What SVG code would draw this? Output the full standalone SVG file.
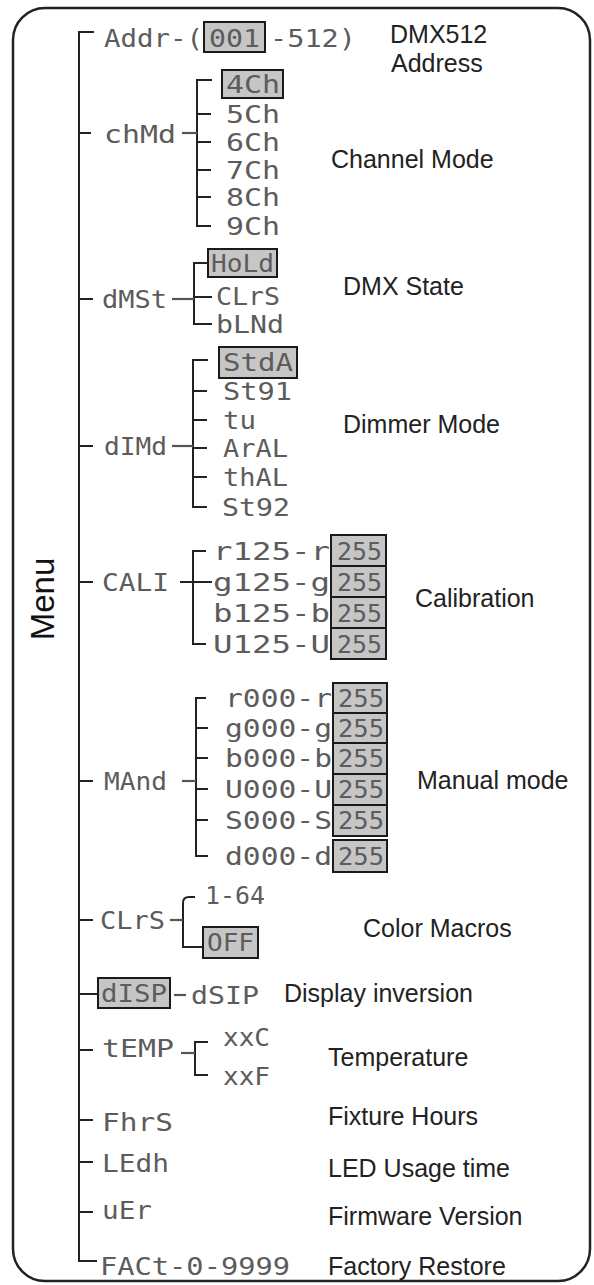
<svg xmlns="http://www.w3.org/2000/svg" width="594" height="1285" viewBox="0 0 594 1285">
<style>
.seg{font-family:"DejaVu Sans Mono","Liberation Mono",monospace;font-size:25px;fill:#5c5c5c}
.lbl{font-family:"Liberation Sans",Arial,sans-serif;font-size:25px;fill:#222}
.menu{font-family:"Liberation Sans",Arial,sans-serif;font-size:33px;fill:#111}
.box{fill:#c6c6c6;stroke:#1a1a1a;stroke-width:2}
.ln{stroke:#222;stroke-width:2;fill:none}
.dash{stroke:#555;stroke-width:2.2;fill:none}
</style>
<rect x="13" y="8" width="577" height="1273" rx="32" fill="#fff" stroke="#222" stroke-width="2.5"/>
<g id="menu"><text class="menu" x="54" y="599" text-anchor="middle" transform="rotate(-90 54 599)">Menu</text></g>

<g id="connectors">
<path class="ln" d="M94 32H79V1261H97"/>
<path class="ln" d="M79 133H91M79 299H93M79 446H93M79 582H93M79 781H93M79 920H93M79 994H98M79 1050H93M79 1120H93M79 1162H93M79 1212H93"/>
<path class="ln" d="M212 80H197V226H211M197 114H211M197 142H211M197 170H211M197 197H211"/>
<path class="dash" d="M182 133H197"/>
<path class="ln" d="M208 263H194V324H212M194 297H212"/>
<path class="dash" d="M172 299H194"/>
<path class="ln" d="M208 360H193V507H207M193 391H207M193 420H207M193 448H207M193 477H207"/>
<path class="dash" d="M172 446H193"/>
<path class="ln" d="M206 551H193V644H206M180 582H212"/>
<path class="ln" d="M206 698H196V856H208M196 728H208M196 758H208M196 789H208M196 820H208"/>
<path class="dash" d="M182 781H196"/>
<path class="ln" d="M195 897H189Q183 897 183 903V947H203"/>
<path class="dash" d="M170 920H183"/>
<path class="dash" d="M174 995H186"/>
<path class="ln" d="M208 1042H195V1075H208"/>
<path class="dash" d="M181 1053H195"/>
</g>

<g id="n-addr">
<rect class="box" x="204" y="22" width="61" height="30"/>
<text class="seg" x="104" y="47" textLength="99" lengthAdjust="spacingAndGlyphs">Addr-(</text>
<text class="seg" x="209" y="47" textLength="51" lengthAdjust="spacingAndGlyphs">001</text>
<text class="seg" x="270" y="47" textLength="86" lengthAdjust="spacingAndGlyphs">-512)</text>
<text class="lbl" x="390" y="43">DMX512</text>
<text class="lbl" x="391" y="72">Address</text>
</g>

<g id="n-chmd">
<text class="seg" x="104" y="143" textLength="72" lengthAdjust="spacingAndGlyphs">chMd</text>
<text class="lbl" x="331" y="168">Channel Mode</text>
</g>
<g id="o-4ch"><rect class="box" x="222" y="70" width="61" height="28"/><text class="seg" x="226" y="93" textLength="54" lengthAdjust="spacingAndGlyphs">4Ch</text></g>
<g id="o-5ch"><text class="seg" x="226" y="123" textLength="54" lengthAdjust="spacingAndGlyphs">5Ch</text></g>
<g id="o-6ch"><text class="seg" x="226" y="151" textLength="54" lengthAdjust="spacingAndGlyphs">6Ch</text></g>
<g id="o-7ch"><text class="seg" x="226" y="179" textLength="54" lengthAdjust="spacingAndGlyphs">7Ch</text></g>
<g id="o-8ch"><text class="seg" x="226" y="206" textLength="54" lengthAdjust="spacingAndGlyphs">8Ch</text></g>
<g id="o-9ch"><text class="seg" x="226" y="235" textLength="54" lengthAdjust="spacingAndGlyphs">9Ch</text></g>

<g id="n-dmst">
<text class="seg" x="102" y="308" textLength="65" lengthAdjust="spacingAndGlyphs">dMSt</text>
<text class="lbl" x="343" y="295">DMX State</text>
</g>
<g id="o-hold"><rect class="box" x="208" y="249" width="69" height="28"/><text class="seg" x="211" y="272" textLength="63" lengthAdjust="spacingAndGlyphs">HoLd</text></g>
<g id="o-clrs1"><text class="seg" x="216" y="305" textLength="64" lengthAdjust="spacingAndGlyphs">CLrS</text></g>
<g id="o-blnd"><text class="seg" x="216" y="333" textLength="68" lengthAdjust="spacingAndGlyphs">bLNd</text></g>

<g id="n-dimd">
<text class="seg" x="104" y="455" textLength="63" lengthAdjust="spacingAndGlyphs">dIMd</text>
<text class="lbl" x="343" y="433">Dimmer Mode</text>
</g>
<g id="o-stda"><rect class="box" x="219" y="347" width="78" height="31"/><text class="seg" x="223" y="371" textLength="70" lengthAdjust="spacingAndGlyphs">StdA</text></g>
<g id="o-st91"><text class="seg" x="223" y="400" textLength="69" lengthAdjust="spacingAndGlyphs">St91</text></g>
<g id="o-tu"><text class="seg" x="223" y="429" textLength="33" lengthAdjust="spacingAndGlyphs">tu</text></g>
<g id="o-aral"><text class="seg" x="223" y="457" textLength="65" lengthAdjust="spacingAndGlyphs">ArAL</text></g>
<g id="o-thal"><text class="seg" x="223" y="486" textLength="65" lengthAdjust="spacingAndGlyphs">thAL</text></g>
<g id="o-st92"><text class="seg" x="222" y="516" textLength="68" lengthAdjust="spacingAndGlyphs">St92</text></g>

<g id="n-cali">
<text class="seg" x="102" y="591" textLength="67" lengthAdjust="spacingAndGlyphs">CALI</text>
<text class="lbl" x="415" y="607">Calibration</text>
</g>
<g id="o-cal-r"><rect class="box" x="331" y="535" width="55" height="31"/><text class="seg" x="213" y="560" textLength="117" lengthAdjust="spacingAndGlyphs">r125-r</text><text class="seg" x="337" y="560" textLength="45" lengthAdjust="spacingAndGlyphs">255</text></g>
<g id="o-cal-g"><rect class="box" x="331" y="566" width="55" height="31"/><text class="seg" x="213" y="591" textLength="117" lengthAdjust="spacingAndGlyphs">g125-g</text><text class="seg" x="337" y="591" textLength="45" lengthAdjust="spacingAndGlyphs">255</text></g>
<g id="o-cal-b"><rect class="box" x="331" y="597" width="55" height="31"/><text class="seg" x="213" y="622" textLength="117" lengthAdjust="spacingAndGlyphs">b125-b</text><text class="seg" x="337" y="622" textLength="45" lengthAdjust="spacingAndGlyphs">255</text></g>
<g id="o-cal-u"><rect class="box" x="331" y="628" width="55" height="31"/><text class="seg" x="213" y="653" textLength="117" lengthAdjust="spacingAndGlyphs">U125-U</text><text class="seg" x="337" y="653" textLength="45" lengthAdjust="spacingAndGlyphs">255</text></g>

<g id="n-mand">
<text class="seg" x="104" y="790" textLength="63" lengthAdjust="spacingAndGlyphs">MAnd</text>
<text class="lbl" x="417" y="789">Manual mode</text>
</g>
<g id="o-man-r"><rect class="box" x="333" y="683" width="54" height="30"/><text class="seg" x="225" y="707" textLength="107" lengthAdjust="spacingAndGlyphs">r000-r</text><text class="seg" x="338" y="707" textLength="46" lengthAdjust="spacingAndGlyphs">255</text></g>
<g id="o-man-g"><rect class="box" x="333" y="713" width="54" height="30"/><text class="seg" x="225" y="737" textLength="107" lengthAdjust="spacingAndGlyphs">g000-g</text><text class="seg" x="338" y="737" textLength="46" lengthAdjust="spacingAndGlyphs">255</text></g>
<g id="o-man-b"><rect class="box" x="333" y="743" width="54" height="31"/><text class="seg" x="225" y="767" textLength="107" lengthAdjust="spacingAndGlyphs">b000-b</text><text class="seg" x="338" y="767" textLength="46" lengthAdjust="spacingAndGlyphs">255</text></g>
<g id="o-man-u"><rect class="box" x="333" y="774" width="54" height="31"/><text class="seg" x="225" y="798" textLength="107" lengthAdjust="spacingAndGlyphs">U000-U</text><text class="seg" x="338" y="798" textLength="46" lengthAdjust="spacingAndGlyphs">255</text></g>
<g id="o-man-s"><rect class="box" x="333" y="805" width="54" height="31"/><text class="seg" x="225" y="829" textLength="107" lengthAdjust="spacingAndGlyphs">S000-S</text><text class="seg" x="338" y="829" textLength="46" lengthAdjust="spacingAndGlyphs">255</text></g>
<g id="o-man-d"><rect class="box" x="333" y="840" width="54" height="32"/><text class="seg" x="225" y="865" textLength="107" lengthAdjust="spacingAndGlyphs">d000-d</text><text class="seg" x="338" y="865" textLength="46" lengthAdjust="spacingAndGlyphs">255</text></g>

<g id="n-clrs">
<text class="seg" x="100" y="929" textLength="65" lengthAdjust="spacingAndGlyphs">CLrS</text>
<text class="lbl" x="363" y="937">Color Macros</text>
</g>
<g id="o-1-64"><text class="seg" x="205" y="904" textLength="60" lengthAdjust="spacingAndGlyphs">1-64</text></g>
<g id="o-off"><rect class="box" x="203" y="927" width="55" height="31"/><text class="seg" x="207" y="951" textLength="47" lengthAdjust="spacingAndGlyphs">OFF</text></g>

<g id="n-disp">
<rect class="box" x="98" y="978" width="72" height="30"/>
<text class="seg" x="101" y="1002" textLength="66" lengthAdjust="spacingAndGlyphs">dISP</text>
<text class="lbl" x="284" y="1002">Display inversion</text>
</g>
<g id="o-dsip"><text class="seg" x="191" y="1004" textLength="68" lengthAdjust="spacingAndGlyphs">dSIP</text></g>

<g id="n-temp">
<text class="seg" x="102" y="1057" textLength="72" lengthAdjust="spacingAndGlyphs">tEMP</text>
<text class="lbl" x="328" y="1066">Temperature</text>
</g>
<g id="o-xxc"><text class="seg" x="223" y="1046" textLength="47" lengthAdjust="spacingAndGlyphs">xxC</text></g>
<g id="o-xxf"><text class="seg" x="223" y="1085" textLength="47" lengthAdjust="spacingAndGlyphs">xxF</text></g>

<g id="n-fhrs">
<text class="seg" x="102" y="1131" textLength="71" lengthAdjust="spacingAndGlyphs">FhrS</text>
<text class="lbl" x="328" y="1125">Fixture Hours</text>
</g>
<g id="n-ledh">
<text class="seg" x="102" y="1172" textLength="67" lengthAdjust="spacingAndGlyphs">LEdh</text>
<text class="lbl" x="328" y="1177">LED Usage time</text>
</g>
<g id="n-ver">
<text class="seg" x="102" y="1219" textLength="50" lengthAdjust="spacingAndGlyphs">uEr</text>
<text class="lbl" x="328" y="1225">Firmware Version</text>
</g>
<g id="n-fact">
<text class="seg" x="100" y="1275" textLength="190" lengthAdjust="spacingAndGlyphs">FACt-0-9999</text>
<text class="lbl" x="328" y="1275">Factory Restore</text>
</g>
</svg>
